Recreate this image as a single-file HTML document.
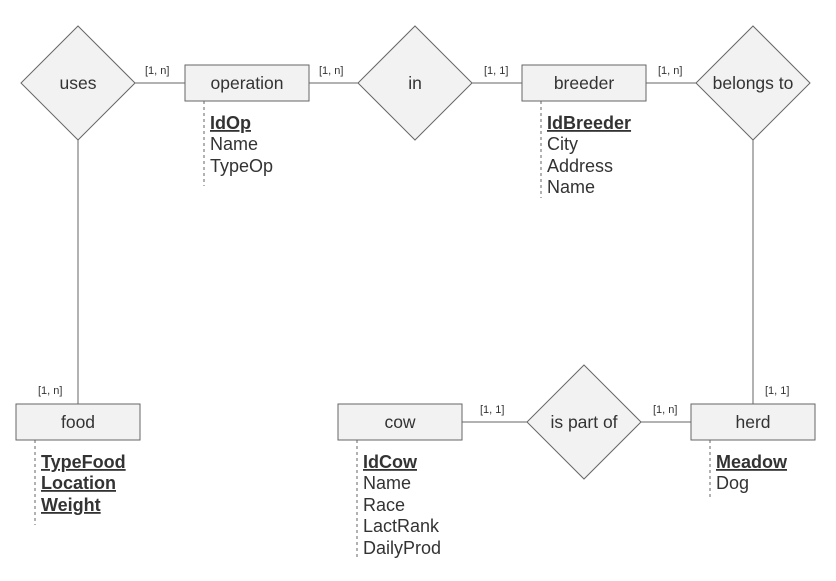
<!DOCTYPE html>
<html><head><meta charset="utf-8"><style>body{margin:0;background:#fff}svg{display:block}</style></head><body>
<svg width="836" height="581" viewBox="0 0 836 581" xmlns="http://www.w3.org/2000/svg" font-family="Liberation Sans, sans-serif">
<g stroke="#666" stroke-width="1" fill="none">
<line x1="135" y1="83" x2="185" y2="83"/>
<line x1="309" y1="83" x2="358" y2="83"/>
<line x1="472" y1="83" x2="522" y2="83"/>
<line x1="646" y1="83" x2="696" y2="83"/>
<line x1="753" y1="140" x2="753" y2="404"/>
<line x1="78" y1="140" x2="78" y2="404"/>
<line x1="462" y1="422" x2="527" y2="422"/>
<line x1="641" y1="422" x2="691" y2="422"/>
</g>
<g stroke="#666" stroke-width="1" stroke-dasharray="3,3">
<line x1="204" y1="101" x2="204" y2="186"/>
<line x1="541" y1="101" x2="541" y2="198"/>
<line x1="35" y1="440" x2="35" y2="525"/>
<line x1="357" y1="440" x2="357" y2="560"/>
<line x1="710" y1="440" x2="710" y2="500"/>
</g>
<g fill="#f2f2f2" stroke="#666" stroke-width="1">
<polygon points="78,26 135,83 78,140 21,83"/>
<polygon points="415,26 472,83 415,140 358,83"/>
<polygon points="753,26 810,83 753,140 696,83"/>
<polygon points="584,365 641,422 584,479 527,422"/>
<rect x="185" y="65" width="124" height="36"/>
<rect x="522" y="65" width="124" height="36"/>
<rect x="16" y="404" width="124" height="36"/>
<rect x="338" y="404" width="124" height="36"/>
<rect x="691" y="404" width="124" height="36"/>
</g>
<g fill="#333" font-size="17.5" text-anchor="middle">
<text x="78" y="89">uses</text>
<text x="415" y="89">in</text>
<text x="753" y="89">belongs to</text>
<text x="584" y="428">is part of</text>
<text x="247" y="89">operation</text>
<text x="584" y="89">breeder</text>
<text x="78" y="428">food</text>
<text x="400" y="428">cow</text>
<text x="753" y="428">herd</text>
</g>
<g fill="#333" font-size="11">
<text x="145" y="74">[1, n]</text>
<text x="319" y="74">[1, n]</text>
<text x="484" y="74">[1, 1]</text>
<text x="658" y="74">[1, n]</text>
<text x="765" y="394">[1, 1]</text>
<text x="38" y="394">[1, n]</text>
<text x="480" y="413">[1, 1]</text>
<text x="653" y="413">[1, n]</text>
</g>
<g fill="#333" font-size="18">
<text x="210" y="129" font-weight="bold" text-decoration="underline">IdOp</text>
<text x="210" y="150">Name</text>
<text x="210" y="172">TypeOp</text>
<text x="547" y="129" font-weight="bold" text-decoration="underline">IdBreeder</text>
<text x="547" y="150">City</text>
<text x="547" y="172">Address</text>
<text x="547" y="193">Name</text>
<text x="41" y="468" font-weight="bold" text-decoration="underline">TypeFood</text>
<text x="41" y="489" font-weight="bold" text-decoration="underline">Location</text>
<text x="41" y="511" font-weight="bold" text-decoration="underline">Weight</text>
<text x="363" y="468" font-weight="bold" text-decoration="underline">IdCow</text>
<text x="363" y="489">Name</text>
<text x="363" y="511">Race</text>
<text x="363" y="532">LactRank</text>
<text x="363" y="554">DailyProd</text>
<text x="716" y="468" font-weight="bold" text-decoration="underline">Meadow</text>
<text x="716" y="489">Dog</text>
</g>
</svg>
</body></html>
